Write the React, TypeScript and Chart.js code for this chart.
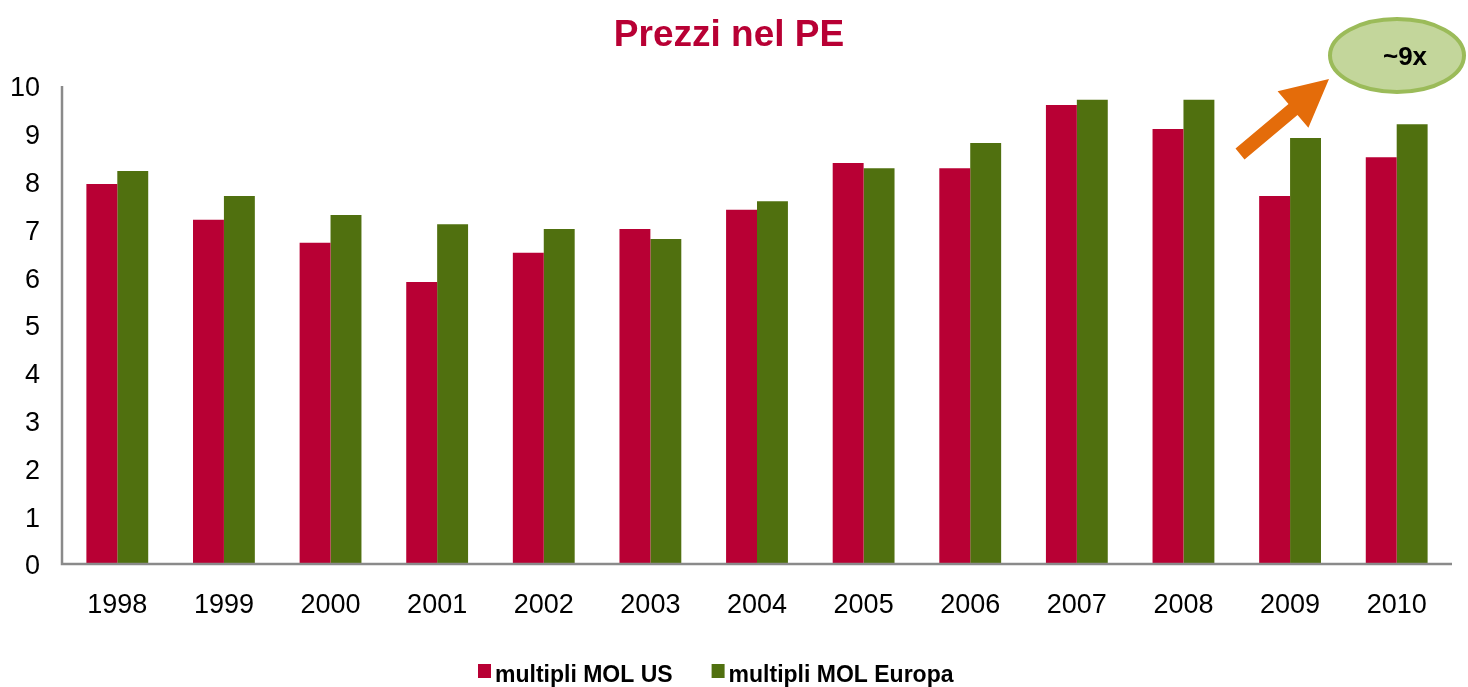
import React, { useEffect, useRef } from "react";
import { Chart, registerables } from "chart.js";

Chart.register(...registerables);

const categories = ["1998", "1999", "2000", "2001", "2002", "2003", "2004", "2005", "2006", "2007", "2008", "2009", "2010"];
const usValues = [7.95, 7.2, 6.72, 5.9, 6.51, 7.01, 7.41, 8.39, 8.28, 9.6, 9.1, 7.7, 8.51];
const euValues = [8.22, 7.7, 7.3, 7.11, 7.01, 6.8, 7.59, 8.28, 8.81, 9.71, 9.71, 8.91, 9.2];
const seriesLabels = ["multipli MOL US", "multipli MOL Europa"];
const titleText = "Prezzi nel PE";
const calloutText = "~9x";

const RED = "#B80034";
const GREEN = "#50700F";
const AXIS = "#8A8A8A";
const FONT = '"Liberation Sans", Arial, sans-serif';

const decorPlugin = {
  id: "decor",
  afterDraw(chart: any) {
    const ctx = chart.ctx;
    const area = chart.chartArea;
    ctx.save();
    // Axis lines
    ctx.strokeStyle = AXIS;
    ctx.lineWidth = 2.5;
    ctx.beginPath();
    ctx.moveTo(62, area.top);
    ctx.lineTo(62, area.bottom);
    ctx.lineTo(area.right + 2, area.bottom);
    ctx.stroke();

    // Title
    ctx.fillStyle = RED;
    ctx.font = `bold 37px ${FONT}`;
    ctx.textAlign = "center";
    ctx.textBaseline = "alphabetic";
    ctx.fillText(titleText, 729, 46);

    // Arrow
    ctx.fillStyle = "#E46C0A";
    ctx.beginPath();
    const pts = [
      [1235.5, 148.6],
      [1288.5, 104.1],
      [1277.6, 91.2],
      [1329, 79],
      [1308.4, 127.8],
      [1297.5, 114.9],
      [1244.5, 159.4],
    ];
    pts.forEach(([x, y], i) => (i ? ctx.lineTo(x, y) : ctx.moveTo(x, y)));
    ctx.closePath();
    ctx.fill();

    // Ellipse callout
    ctx.beginPath();
    ctx.ellipse(1397, 55.5, 67, 36.5, 0, 0, Math.PI * 2);
    ctx.fillStyle = "#C3D69B";
    ctx.fill();
    ctx.lineWidth = 4;
    ctx.strokeStyle = "#9BBB59";
    ctx.stroke();
    ctx.fillStyle = "#000";
    ctx.font = `bold 26px ${FONT}`;
    ctx.textAlign = "center";
    ctx.fillText(calloutText, 1405, 65);

    // Legend
    ctx.font = `bold 23px ${FONT}`;
    ctx.textAlign = "left";
    let x = 478;
    chart.data.datasets.forEach((ds: any) => {
      ctx.fillStyle = ds.backgroundColor;
      ctx.fillRect(x, 664, 13, 14);
      ctx.fillStyle = "#000";
      ctx.fillText(ds.label, x + 17, 682);
      x += 17 + ctx.measureText(ds.label).width + 39;
    });
    ctx.restore();
  },
};

export default function App() {
  const ref = useRef<HTMLCanvasElement | null>(null);
  useEffect(() => {
    if (!ref.current) return;
    const chart = new Chart(ref.current, {
      type: "bar",
      data: {
        labels: categories,
        datasets: [
          { label: seriesLabels[0], data: usValues, backgroundColor: RED, categoryPercentage: 0.58, barPercentage: 1.0 },
          { label: seriesLabels[1], data: euValues, backgroundColor: GREEN, categoryPercentage: 0.58, barPercentage: 1.0 },
        ],
      },
      options: {
        animation: false,
        responsive: false,
        maintainAspectRatio: false,
        layout: { padding: { top: 86, right: 18, left: 0, bottom: 0 } },
        plugins: {
          legend: { display: false },
          title: { display: false },
          tooltip: { enabled: false },
        },
        scales: {
          x: {
            grid: { display: false, drawTicks: false },
            border: { display: false },
            ticks: { color: "#000", font: { family: FONT, size: 27 }, padding: 25, maxRotation: 0, autoSkip: false },
            afterFit: (s: any) => {
              s.height = 123;
            },
          },
          y: {
            min: 0,
            max: 10,
            grid: { display: false, drawTicks: false },
            border: { display: false },
            ticks: { stepSize: 1, color: "#000", font: { family: FONT, size: 27 }, padding: 24, labelOffset: 3 },
            afterFit: (s: any) => {
              s.width = 64;
            },
          },
        },
      },
      plugins: [decorPlugin],
    });
    return () => chart.destroy();
  }, []);
  return (
    <div style={{ position: "fixed", left: 0, top: 0, width: 1468, height: 687, background: "#fff" }}>
      <canvas ref={ref} width={1468} height={687} style={{ display: "block" }} />
    </div>
  );
}
